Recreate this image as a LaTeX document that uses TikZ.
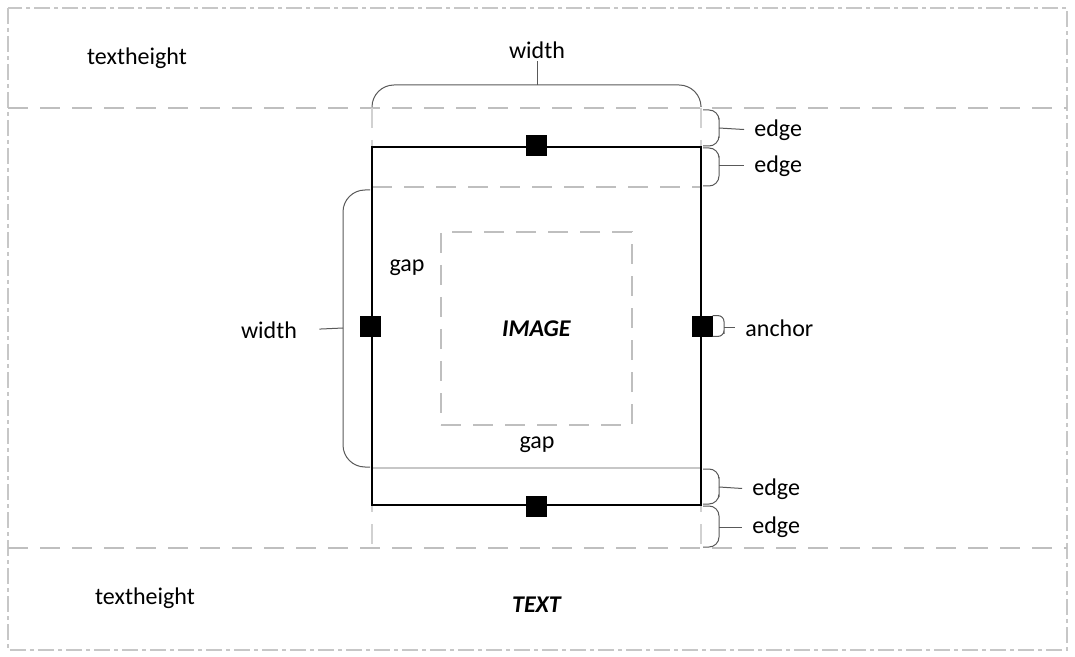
\documentclass[tikz,border=0pt]{standalone}
\usepackage{fontspec}
\setmainfont{Carlito}
\usetikzlibrary{positioning}

\tikzset{
  lbl/.style={font=\fontsize{12}{14}\selectfont,inner sep=1pt},
  hdl/.style={draw=black,fill=black,minimum size=10pt,inner sep=0pt},
  guide/.style={draw=black!25,line width=1.2pt,dash pattern=on 10pt off 6pt},
  frame/.style={draw=black!22,line width=1pt,dash pattern=on 8pt off 2pt on 2pt off 2pt},
  brace/.style={draw=black!65,line width=0.5pt},
}

\begin{document}
\begin{tikzpicture}[x=0.5pt,y=-0.5pt]
\useasboundingbox (0,0) rectangle (1075,657);
% page frame and text bands
\draw[frame] (8,8) rectangle (1067,650);
\draw[guide] (8,108) -- (1067,108);
\draw[guide] (8,548) -- (1067,548);
\draw[guide,draw=black!18,line width=0.8pt] (372,108) -- (372,548);
\draw[guide,draw=black!18,line width=0.8pt] (701,108) -- (701,548);
\draw[guide] (372,187) -- (701,187);
\draw[draw=black!22,line width=1.2pt] (372,468) -- (701,468);
% cell and image
\node[draw,line width=1.3pt,minimum width=164.5pt,minimum height=179pt,inner sep=0pt] (cell) at (536.5,326) {};
\node[guide,minimum width=95.5pt,minimum height=96.5pt,lbl] (img) at (536.5,328.5) {\textbf{\textit{IMAGE}}};
\node[hdl] (h_top) at (cell.north) {};
\node[hdl] (h_bot) at (cell.south) {};
\node[hdl] (h_left) at (cell.west) {};
\node[hdl] (h_right) at (cell.east) {};
% labels
\node[lbl] (th_top) at (137,58) {textheight};
\node[lbl] (th_bot) at (145,598) {textheight};
\node[lbl] (txt) at (537,605) {\textbf{\textit{TEXT}}};
\node[lbl] (gap_l) at (407,268) {gap};
\node[lbl] (gap_b) at (537,445) {gap};
\node[lbl] (w_top) at (537,50) {width};
\node[lbl] (w_left) at (269,330) {width};
\node[lbl,anchor=west] (e_1) at (752,130) {edge};
\node[lbl,anchor=west] (e_2) at (752,166) {edge};
\node[lbl,anchor=west] (e_3) at (750,489) {edge};
\node[lbl,anchor=west] (e_4) at (750,527) {edge};
\node[lbl,anchor=west] (anc) at (743,328) {anchor};
% braces
\draw[brace,rounded corners=11pt] (372,106) |- (701,85) -- (701,106);
\coordinate (b_top) at (537,85);
\draw[brace] (b_top) -- (w_top.south);
\draw[brace,rounded corners=11pt] (370,190) -| (343,328) |- (370,467);
\coordinate (b_left) at (343,328);
\draw[brace,shorten >=10pt] (b_left) -- (w_left.east);
\draw[brace,rounded corners=5pt] (703,110) -| (719,128) |- (703,146);
\draw[brace,shorten >=4pt] (719,128) -- (e_1.west);
\draw[brace,rounded corners=5pt] (703,148) -| (719,166) |- (703,186);
\draw[brace,shorten >=4pt] (719,166) -- (e_2.west);
\draw[brace,rounded corners=5pt] (703,469) -| (719,487) |- (703,504);
\draw[brace,shorten >=4pt] (719,487) -- (e_3.west);
\draw[brace,rounded corners=5pt] (703,506) -| (719,527) |- (703,547);
\draw[brace,shorten >=4pt] (719,527) -- (e_4.west);
\draw[brace,rounded corners=3pt] (h_right.north east) -| (724,328) |- (h_right.south east);
\draw[brace,shorten >=4pt] (724,328) -- (anc.west);
\end{tikzpicture}
\end{document}
